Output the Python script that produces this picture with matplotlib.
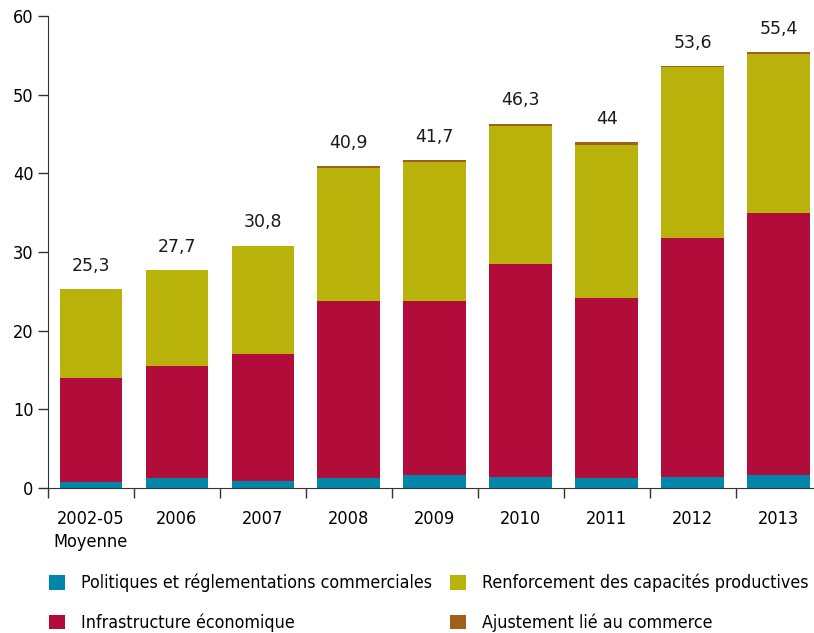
import matplotlib.pyplot as plt
import numpy as np

categories = ["2002-05\nMoyenne", "2006", "2007", "2008", "2009", "2010", "2011", "2012", "2013"]
totals = [25.3, 27.7, 30.8, 40.9, 41.7, 46.3, 44.0, 53.6, 55.4]
total_labels = ["25,3", "27,7", "30,8", "40,9", "41,7", "46,3", "44", "53,6", "55,4"]
politiques = [0.8, 1.3, 0.9, 1.3, 1.6, 1.4, 1.3, 1.4, 1.7]
infrastructure = [13.2, 14.2, 16.1, 22.5, 22.2, 27.1, 22.8, 30.4, 33.3]
ajustement = [0.0, 0.0, 0.0, 0.2, 0.3, 0.3, 0.4, 0.1, 0.2]
renforcement = [t - p - i - a for t, p, i, a in zip(totals, politiques, infrastructure, ajustement)]

series_names = ["Politiques et réglementations commerciales", "Infrastructure économique",
                "Renforcement des capacités productives", "Ajustement lié au commerce"]
colors = ["#0086a8", "#b20c3a", "#b8b20a", "#a0601a"]

plt.rcParams['font.family'] = ['DejaVu Sans']
plt.rcParams['font.stretch'] = 'condensed'

fig = plt.figure(figsize=(8.14, 6.33), dpi=100)
ax = fig.add_axes([0.059, 0.229, 0.945, 0.746])

x = np.arange(len(categories))
width = 0.73
bottom = np.zeros(len(categories))
handles = []
for vals, col, name in zip([politiques, infrastructure, renforcement, ajustement], colors, series_names):
    h = ax.bar(x, vals, width, bottom=bottom, color=col, label=name, linewidth=0)
    handles.append(h)
    bottom += np.array(vals)

# totals above the bars
for xi, t, lab in zip(x, totals, total_labels):
    ax.text(xi, t + 1.8, lab, ha='center', va='bottom', fontsize=12.5, color='#1a1a1a',
            stretch='normal')

ax.set_xlim(-0.5, 8.45)
ax.set_ylim(0, 60)
ax.set_yticks(range(0, 61, 10))
ax.set_xticks(x)
ax.set_xticklabels(categories, fontsize=13, linespacing=1.35)
ax.set_xticks(np.arange(-0.5, 8.5, 1), minor=True)
ax.tick_params(axis='x', which='major', length=0, pad=16)
ax.tick_params(axis='x', which='minor', length=7, width=1, color='#333333')
ax.tick_params(axis='y', length=7, width=1, color='#333333', labelsize=13)
for s in ['top', 'right']:
    ax.spines[s].set_visible(False)
ax.spines['left'].set_color('#333333')
ax.spines['bottom'].set_color('#333333')

fig.legend(handles, series_names, loc='lower left', bbox_to_anchor=(0.04, -0.024), ncol=2,
           frameon=False, fontsize=12.8, handlelength=0.9, handleheight=0.9,
           columnspacing=1.05, labelspacing=1.2, handletextpad=0.9)

fig.savefig("out.png", dpi=100)
